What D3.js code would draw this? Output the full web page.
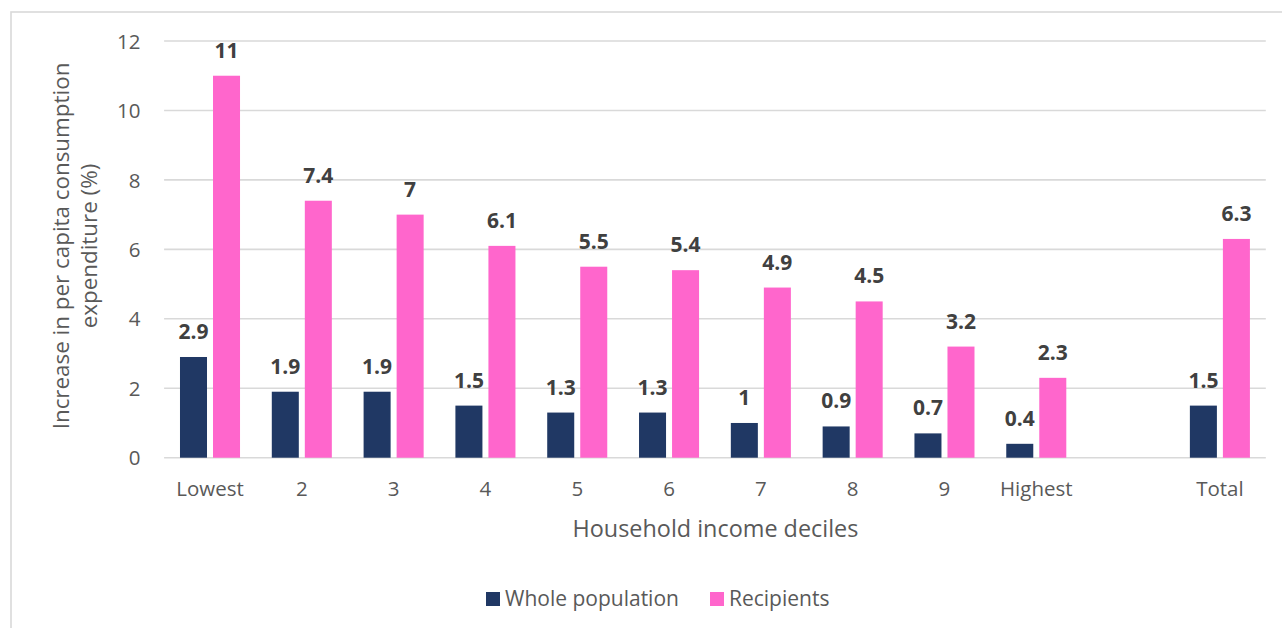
<!DOCTYPE html>
<html>
<head>
<meta charset="utf-8">
<script src="https://cdn.jsdelivr.net/npm/d3@7"></script>
<style>
  html, body { margin: 0; padding: 0; background: #ffffff; }
  svg { display: block; font-family: "Open Sans", sans-serif; }
</style>
</head>
<body>
<svg id="chart" width="1282" height="628"></svg>
<script>
// Household income deciles (a blank slot separates the deciles from the total)
const categories = ["Lowest", "2", "3", "4", "5", "6", "7", "8", "9", "Highest", "Total"];
const gapKey = "__gap__";
const wholePopulation = [2.9, 1.9, 1.9, 1.5, 1.3, 1.3, 1, 0.9, 0.7, 0.4, 1.5];
const recipients = [11, 7.4, 7, 6.1, 5.5, 5.4, 4.9, 4.5, 3.2, 2.3, 6.3];
const seriesNames = ["Whole population", "Recipients"];
const seriesColors = ["#203864", "#ff66cc"];
const yTicks = [0, 2, 4, 6, 8, 10, 12];

const svg = d3.select("#chart");

// outer frame
svg.append("rect")
  .attr("x", 11).attr("y", 12)
  .attr("width", 1400).attr("height", 800)
  .attr("fill", "none")
  .attr("stroke", "#d9d9d9")
  .attr("stroke-width", 1.6);

const plot = { left: 164.1, right: 1265.8, top: 41, bottom: 457.7 };

const domain = categories.slice(0, 10).concat([gapKey]).concat(categories.slice(10));

const x = d3.scaleBand()
  .domain(domain)
  .range([plot.left, plot.right])
  .paddingInner(0.346)
  .paddingOuter(0.173);

const xSub = d3.scaleBand()
  .domain(seriesNames)
  .range([0, x.bandwidth()])
  .paddingInner(0.1818);

const y = d3.scaleLinear()
  .domain([0, 12])
  .range([plot.bottom, plot.top]);

// horizontal gridlines
svg.append("g")
  .selectAll("line")
  .data(yTicks)
  .join("line")
  .attr("x1", plot.left).attr("x2", plot.right)
  .attr("y1", d => y(d)).attr("y2", d => y(d))
  .attr("stroke", "#d9d9d9")
  .attr("stroke-width", 1.6);

// y axis tick labels
const yAxis = d3.axisLeft(y).tickValues(yTicks).tickSize(0).tickPadding(0);
const gy = svg.append("g")
  .attr("transform", `translate(${140.5},0)`)
  .call(yAxis);
gy.select(".domain").remove();
gy.selectAll("text")
  .attr("font-family", "'Open Sans', sans-serif")
  .attr("font-size", "20.5px")
  .attr("fill", "#595959")
  .attr("dy", "0.35em");

// x axis tick labels
const xAxis = d3.axisBottom(x).tickSize(0).tickPadding(0)
  .tickFormat(d => d === gapKey ? "" : d);
const gx = svg.append("g")
  .attr("transform", `translate(0,${plot.bottom})`)
  .call(xAxis);
gx.select(".domain").remove();
gx.selectAll("text")
  .attr("font-family", "'Open Sans', sans-serif")
  .attr("font-size", "20.5px")
  .attr("fill", "#595959")
  .attr("y", 38.3)
  .attr("dy", 0);

// bars and value labels
const rows = categories.map((c, i) => ({
  category: c,
  values: [
    { series: seriesNames[0], value: wholePopulation[i], color: seriesColors[0] },
    { series: seriesNames[1], value: recipients[i], color: seriesColors[1] }
  ]
}));

const groups = svg.append("g")
  .selectAll("g")
  .data(rows)
  .join("g")
  .attr("transform", d => `translate(${x(d.category)},0)`);

groups.selectAll("rect")
  .data(d => d.values)
  .join("rect")
  .attr("x", d => xSub(d.series))
  .attr("width", xSub.bandwidth())
  .attr("y", d => y(d.value))
  .attr("height", d => y(0) - y(d.value))
  .attr("fill", d => d.color);

groups.selectAll("text")
  .data(d => d.values)
  .join("text")
  .attr("x", d => xSub(d.series) + xSub.bandwidth() / 2)
  .attr("y", d => y(d.value) - 18)
  .attr("text-anchor", "middle")
  .attr("font-size", "21px")
  .attr("font-weight", "bold")
  .attr("fill", "#404040")
  .text(d => String(d.value));

// axis titles
svg.append("text")
  .attr("x", (plot.left + plot.right) / 2 + 0.5)
  .attr("y", 537)
  .attr("text-anchor", "middle")
  .attr("font-size", "23.4px")
  .attr("fill", "#595959")
  .text("Household income deciles");

const yTitle = svg.append("text")
  .attr("transform", "translate(0,246) rotate(-90)")
  .attr("text-anchor", "middle")
  .attr("font-size", "22.4px")
  .attr("fill", "#595959");
yTitle.append("tspan").attr("x", 0).attr("y", 69).text("Increase in per capita consumption");
yTitle.append("tspan").attr("x", 0).attr("y", 97).text("expenditure (%)");

// legend
const legendX = [486, 710];
const legend = svg.append("g")
  .selectAll("g")
  .data(seriesNames)
  .join("g")
  .attr("transform", (d, i) => `translate(${legendX[i]},592)`);
legend.append("rect")
  .attr("width", 14).attr("height", 14)
  .attr("fill", (d, i) => seriesColors[i]);
legend.append("text")
  .attr("x", 19).attr("y", 14)
  .attr("font-size", "21px")
  .attr("fill", "#595959")
  .text(d => d);
</script>
</body>
</html>
